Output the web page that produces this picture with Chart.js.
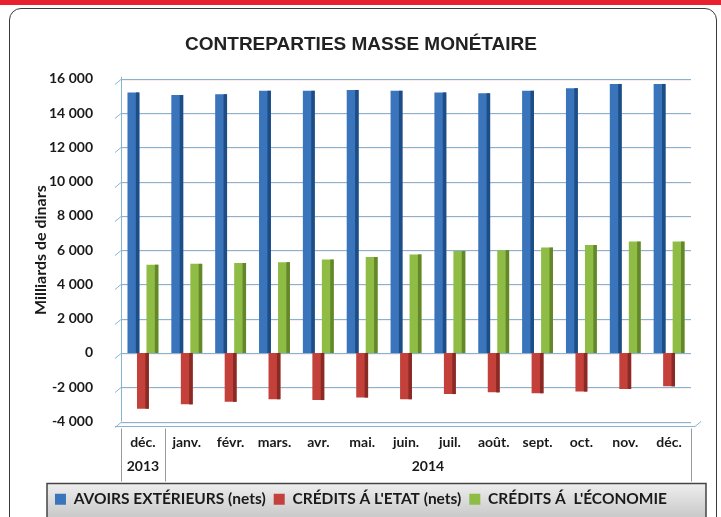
<!DOCTYPE html>
<html>
<head>
<meta charset="utf-8">
<script src="https://cdn.jsdelivr.net/npm/chart.js@4.4.1/dist/chart.umd.min.js"></script>
<style>
  body { margin: 0; background: #fff; }
  #wrap { position: relative; width: 721px; height: 517px; overflow: hidden; }
  #band { position: absolute; left: 0; top: 0; width: 721px; height: 5px; background: #e9202d; }
  #frame { position: absolute; left: 9px; top: 8px; width: 706px; height: 540px;
           border: 1.5px solid #3a3a3a; border-radius: 12px; }
  canvas { position: absolute; left: 0; top: 0; }
</style>
</head>
<body>
<div id="wrap">
  <div id="band"></div>
  <div id="frame"></div>
  <canvas id="myChart" width="721" height="517"></canvas>
</div>
<script>
const months = ['déc.', 'janv.', 'févr.', 'mars.', 'avr.', 'mai.', 'juin.', 'juil.', 'août.', 'sept.', 'oct.', 'nov.', 'déc.'];
const yearLabels = ['2013', '2014'];
const yearSpans = [1, 12];

const avoirs = [15200, 15050, 15100, 15300, 15300, 15350, 15300, 15200, 15150, 15300, 15450, 15700, 15700];
const creditsEtat = [-3250, -3000, -2850, -2700, -2750, -2600, -2700, -2400, -2300, -2350, -2250, -2100, -1950];
const creditsEco = [5150, 5200, 5250, 5300, 5450, 5600, 5750, 5950, 6000, 6150, 6300, 6500, 6500];

const yTicks = [-4000, -2000, 0, 2000, 4000, 6000, 8000, 10000, 12000, 14000, 16000];

const labelFont = { family: 'Lato', size: 14, weight: 'bold' };
const gridBlue = '#86b3d2';

function fmt(v) {
  return String(v).replace(/\B(?=(\d{3})+(?!\d))/g, ' ');
}

// darker side of each bar, for the 3D look
const sides = ['#1d4d85', '#8a2a25', '#63872a'];
const bars3d = {
  id: 'bars3d',
  beforeDatasetsDraw(chart) {
    const ctx = chart.ctx;
    const y = chart.scales.y;
    const area = chart.chartArea;
    ctx.save();
    ctx.lineWidth = 1;
    yTicks.forEach(v => {
      const p = Math.round(y.getPixelForValue(v));
      // very faint pink under the grid line
      ctx.strokeStyle = '#fbeded';
      ctx.beginPath();
      ctx.moveTo(area.left, p + 1.5);
      ctx.lineTo(area.right, p + 1.5);
      ctx.stroke();
      ctx.strokeStyle = gridBlue;
      ctx.beginPath();
      ctx.moveTo(area.left - 6, p + 5.5);
      ctx.lineTo(area.left, p + 0.5);
      ctx.lineTo(area.right, p + 0.5);
      ctx.stroke();
    });
    ctx.beginPath();
    ctx.moveTo(area.left + 0.5, y.getPixelForValue(16000) - 2);
    ctx.lineTo(area.left + 0.5, area.bottom);
    ctx.stroke();
    ctx.restore();
  },
  afterDatasetsDraw(chart) {
    const ctx = chart.ctx;
    chart.data.datasets.forEach((ds, i) => {
      chart.getDatasetMeta(i).data.forEach(bar => {
        const w = bar.width;
        const top = Math.min(bar.y, bar.base);
        const h = Math.abs(bar.base - bar.y);
        ctx.save();
        ctx.fillStyle = sides[i];
        ctx.fillRect(bar.x + w / 2 - 3.5, top, 3.5, h);
        ctx.restore();
      });
    });
  }
};

// legend box and year row under the month labels
const decor = {
  id: 'decor',
  beforeDraw(chart) {
    const ctx = chart.ctx;
    const lg = chart.legend;
    const g = ctx.createLinearGradient(0, lg.top, 0, lg.top + 32);
    g.addColorStop(0, '#eeeeee');
    g.addColorStop(1, '#cbcbcb');
    ctx.save();
    ctx.fillStyle = g;
    ctx.fillRect(47, lg.top, 659, 40);
    ctx.strokeStyle = '#444';
    ctx.lineWidth = 1.5;
    ctx.strokeRect(47, lg.top, 659, 40);
    ctx.restore();
  },
  afterDraw(chart) {
    const ctx = chart.ctx;
    const x = chart.scales.x;
    const area = chart.chartArea;
    const step = x.getPixelForValue(1) - x.getPixelForValue(0);
    ctx.save();
    ctx.strokeStyle = '#9a9a9a';
    ctx.lineWidth = 1;
    let start = 0;
    const edges = [x.getPixelForValue(0) - step / 2];
    yearLabels.forEach((yl, i) => {
      const a = x.getPixelForValue(start) - step / 2;
      const b = x.getPixelForValue(start + yearSpans[i] - 1) + step / 2;
      edges.push(b);
      ctx.fillStyle = '#1a1a1a';
      ctx.font = 'bold 14px Lato';
      ctx.textAlign = 'center';
      ctx.textBaseline = 'middle';
      ctx.fillText(yl, (a + b) / 2, area.bottom + 45);
      start += yearSpans[i];
    });
    edges.forEach(e => {
      ctx.beginPath();
      ctx.moveTo(Math.round(e) + 0.5, area.bottom + 7);
      ctx.lineTo(Math.round(e) + 0.5, area.bottom + 60);
      ctx.stroke();
    });
    // floor slab
    ctx.strokeStyle = gridBlue;
    ctx.beginPath();
    ctx.moveTo(area.left - 6, area.bottom + 5);
    ctx.lineTo(area.right + 4, area.bottom + 5);
    ctx.lineTo(area.right + 10, area.bottom);
    ctx.stroke();
    ctx.restore();
  }
};

new Chart(document.getElementById('myChart'), {
  type: 'bar',
  data: {
    labels: months,
    datasets: [
      { label: 'AVOIRS EXTÉRIEURS (nets)', data: avoirs, backgroundColor: '#3a74bb' },
      { label: "CRÉDITS Á L'ETAT (nets)", data: creditsEtat, backgroundColor: '#c4403a' },
      { label: "CRÉDITS Á  L'ÉCONOMIE", data: creditsEco, backgroundColor: '#8fbc45' }
    ]
  },
  options: {
    responsive: false,
    animation: false,
    categoryPercentage: 0.65,
    barPercentage: 1.25,
    layout: { padding: { left: 31, right: 30, top: 0, bottom: 0 } },
    plugins: {
      title: {
        display: true,
        text: 'CONTREPARTIES MASSE MONÉTAIRE',
        color: '#222',
        font: { family: 'Liberation Sans', size: 19, weight: 'bold' },
        padding: { top: 33, bottom: 23 }
      },
      legend: {
        position: 'bottom',
        labels: {
          color: '#1a1a1a',
          font: { family: 'Lato', size: 15.5, weight: 'bold' },
          boxWidth: 11,
          boxHeight: 11,
          padding: 8
        }
      },
      tooltip: { enabled: false }
    },
    scales: {
      x: {
        grid: { display: false },
        border: { display: false },
        ticks: { color: '#1a1a1a', font: labelFont, padding: 5, maxRotation: 0 },
        afterFit(scale) { scale.height = 62; }
      },
      y: {
        min: -4000,
        max: 16000,
        afterBuildTicks(scale) { scale.ticks = yTicks.map(v => ({ value: v })); },
        afterFit(scale) { scale.width = 90; },
        grid: { display: false },
        border: { display: false },
        ticks: { color: '#1a1a1a', font: labelFont, padding: 20, callback: v => fmt(v) },
        title: {
          display: true,
          text: 'Milliards de dinars',
          color: '#1a1a1a',
          font: { family: 'Lato', size: 16, weight: 'bold' },
          padding: { top: 0, bottom: 0 }
        }
      }
    }
  },
  plugins: [bars3d, decor]
});
</script>
</body>
</html>
